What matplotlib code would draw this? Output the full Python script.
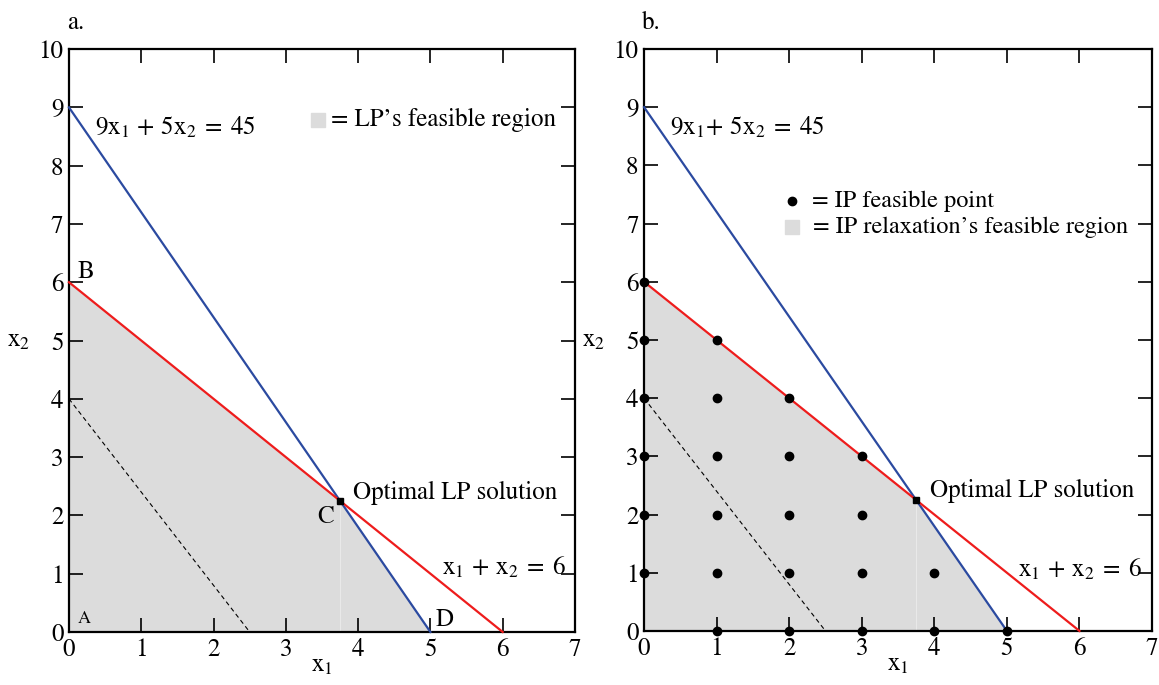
import matplotlib
matplotlib.use("Agg")
import matplotlib.pyplot as plt

plt.rcParams['font.family'] = ['STIXGeneral', 'DejaVu Serif']
plt.rcParams['mathtext.fontset'] = 'stix'

# Data
region_x = [0, 0, 3.75, 5]
region_y = [0, 6, 2.25, 0]
blue_x = [0, 5]
blue_y = [9, 0]
red_x = [0, 6]
red_y = [6, 0]
dash_x = [0, 2.5]
dash_y = [4, 0]
opt_x = [3.75]
opt_y = [2.25]
ip_x = [0, 0, 0, 0, 0, 0,
        1, 1, 1, 1, 1, 1,
        2, 2, 2, 2, 2,
        3, 3, 3, 3,
        4, 4,
        5]
ip_y = [1, 2, 3, 4, 5, 6,
        0, 1, 2, 3, 4, 5,
        0, 1, 2, 3, 4,
        0, 1, 2, 3,
        0, 1,
        0]
xticks = [0, 1, 2, 3, 4, 5, 6, 7]
yticks = [0, 1, 2, 3, 4, 5, 6, 7, 8, 9, 10]

GRAY = '#dcdcdc'
BLUE = '#2b4aa0'
RED = '#ee1c1c'
FS = 18

fig = plt.figure(figsize=(11.59, 6.85), dpi=100)
axA = fig.add_axes([0.0595, 0.0774, 0.4366, 0.851])
axB = fig.add_axes([0.5557, 0.0789, 0.4383, 0.8496])

for ax in (axA, axB):
    ax.fill(region_x, region_y, color=GRAY, lw=0, zorder=1)
    ax.plot([opt_x[0], opt_x[0]], [0, opt_y[0]], color='#e9e9e9', lw=0.8, zorder=1.5)
    ax.plot(blue_x, blue_y, color=BLUE, lw=1.6, zorder=3, clip_on=False)
    ax.plot(red_x, red_y, color=RED, lw=1.6, zorder=3, clip_on=False)
    ax.plot(dash_x, dash_y, color='black', lw=0.8, ls=(0, (4, 3)), zorder=2)
    ax.set_xlim(0, 7)
    ax.set_ylim(0, 10)
    ax.set_xticks(xticks)
    ax.set_yticks(yticks)
    ax.tick_params(direction='in', length=10, width=1.2, top=True, right=True,
                   labelsize=FS, pad=4)
    for sp in ax.spines.values():
        sp.set_linewidth(1.6)
    ax.text(3.5, -0.58, r'$\mathrm{x_1}$', fontsize=FS, ha='center', va='center')
    ax.text(-0.7, 5.0, r'$\mathrm{x_2}$', fontsize=FS, ha='center', va='center')

# Panel a
axA.plot(opt_x, opt_y, marker='s', color='black', ms=4.5, ls='none', zorder=5)
axA.text(-0.03, 10.45, 'a.', fontsize=FS, ha='left', va='center')
axA.text(0.36, 8.65, r'$\mathrm{9x_1\,+\,5x_2\;=\;45}$', fontsize=FS, ha='left', va='center')
axA.text(0.12, 6.18, 'B', fontsize=FS, ha='left', va='center')
axA.text(0.12, 0.22, 'A', fontsize=13, ha='left', va='center')
axA.text(3.43, 1.97, 'C', fontsize=FS, ha='left', va='center')
axA.text(5.07, 0.2, 'D', fontsize=FS, ha='left', va='center')
axA.text(3.93, 2.38, 'Optimal LP solution', fontsize=FS, ha='left', va='center')
axA.text(5.16, 1.1, r'$\mathrm{x_1\,+\,x_2\;=\;6}$', fontsize=FS, ha='left', va='center')
axA.plot([3.44], [8.78], marker='s', color=GRAY, ms=10, ls='none')
axA.text(3.62, 8.78, '= LP\u2019s feasible region', fontsize=FS, ha='left', va='center')

# Panel b
axB.plot(ip_x, ip_y, marker='o', color='black', ms=6, ls='none', zorder=6, clip_on=False)
axB.plot(opt_x, opt_y, marker='s', color='black', ms=4.5, ls='none', zorder=5)
axB.text(-0.03, 10.45, 'b.', fontsize=FS, ha='left', va='center')
axB.text(0.36, 8.65, r'$\mathrm{9x_1\!+\,5x_2\;=\;45}$', fontsize=FS, ha='left', va='center')
axB.text(3.94, 2.4, 'Optimal LP solution', fontsize=FS, ha='left', va='center')
axB.text(5.15, 1.05, r'$\mathrm{x_1\,+\,x_2\;=\;6}$', fontsize=FS, ha='left', va='center')
axB.plot([2.04], [7.39], marker='o', color='black', ms=6, ls='none')
axB.text(2.32, 7.39, '= IP feasible point', fontsize=17.5, ha='left', va='center')
axB.plot([2.04], [6.94], marker='s', color=GRAY, ms=10, ls='none')
axB.text(2.33, 6.94, '= IP relaxation\u2019s feasible region', fontsize=17.5, ha='left', va='center')

fig.savefig('out.png', dpi=100)
